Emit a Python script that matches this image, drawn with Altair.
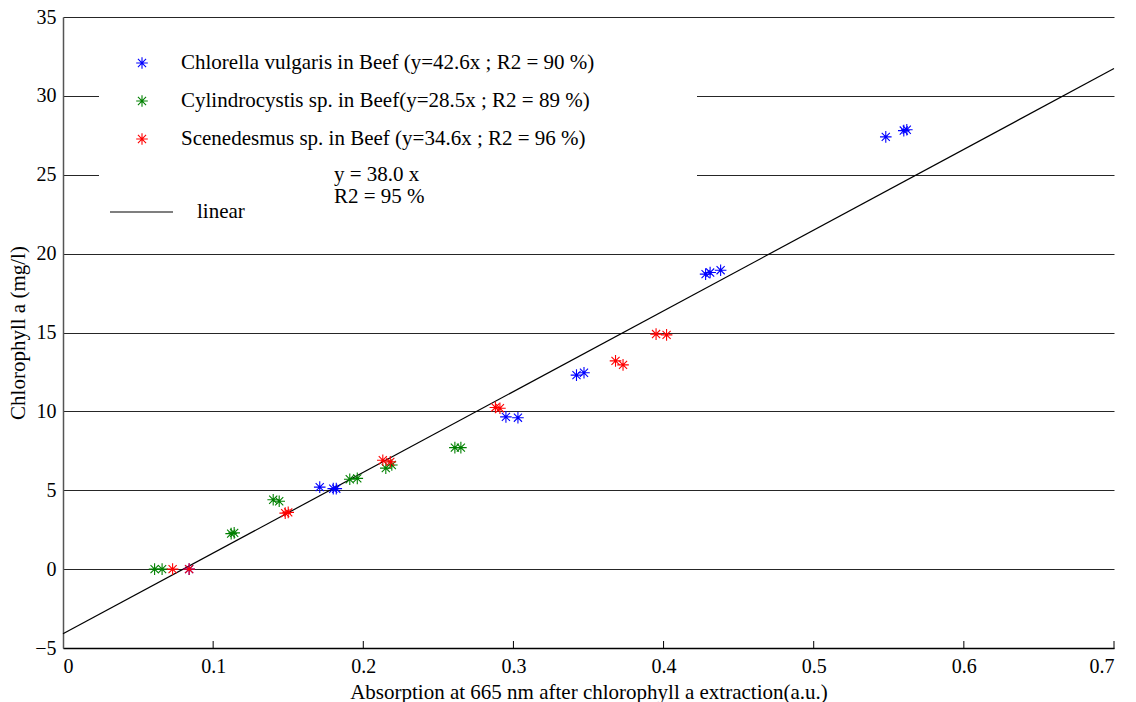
import altair as alt
import pandas as pd

# ---------------- data ----------------
series_names = [
    "Chlorella vulgaris in Beef (y=42.6x ; R2 = 90 %)",
    "Cylindrocystis sp. in Beef(y=28.5x ; R2 = 89 %)",
    "Scenedesmus sp. in Beef (y=34.6x ; R2 = 96 %)",
]
series_colors = ["#0000ff", "#008000", "#ff0000"]

chlorella_x = [0.084, 0.171, 0.180, 0.182, 0.295, 0.303, 0.342, 0.347, 0.428, 0.431, 0.438, 0.548, 0.560, 0.562]
chlorella_y = [0.0, 5.2, 5.1, 5.1, 9.65, 9.6, 12.3, 12.45, 18.7, 18.8, 18.95, 27.4, 27.8, 27.85]

cylindro_x = [0.061, 0.066, 0.112, 0.114, 0.140, 0.144, 0.191, 0.196, 0.215, 0.219, 0.261, 0.265]
cylindro_y = [0.0, 0.0, 2.25, 2.3, 4.4, 4.3, 5.7, 5.75, 6.4, 6.6, 7.7, 7.7]

scened_x = [0.073, 0.084, 0.148, 0.150, 0.213, 0.218, 0.288, 0.291, 0.368, 0.373, 0.395, 0.402]
scened_y = [0.0, 0.0, 3.55, 3.6, 6.9, 6.8, 10.25, 10.2, 13.2, 12.95, 14.9, 14.85]

fit_x = [0.0, 0.7]
fit_y = [-4.1, 31.73]

fit_text = ["y = 38.0 x", "R2 = 95 %"]
fit_label = "linear"

x_ticks = [0, 0.1, 0.2, 0.3, 0.4, 0.5, 0.6, 0.7]
y_ticks = [-5, 0, 5, 10, 15, 20, 25, 30, 35]

x_title = "Absorption at 665 nm after chlorophyll a extraction(a.u.)"
y_title = "Chlorophyll a (mg/l)"

# ---------------- build ----------------
FONT = "Times New Roman, Liberation Serif, DejaVu Serif, serif"
FS = 20
FS_TXT = 21
STAR = "M-1,0L1,0M0,-1L0,1M-0.7,-0.7L0.7,0.7M-0.7,0.7L0.7,-0.7"
W, H = 1051, 631
SZ = 135

rows = []
for name, xs, ys in zip(series_names, [chlorella_x, cylindro_x, scened_x],
                        [chlorella_y, cylindro_y, scened_y]):
    for a, b in zip(xs, ys):
        rows.append({"series": name, "x": a, "y": b})
df = pd.DataFrame(rows)

x_scale = alt.Scale(domain=[0, 0.7], nice=False, zero=False)
y_scale = alt.Scale(domain=[-5, 35], nice=False, zero=False)

x_axis = alt.Axis(values=x_ticks, format="~g", title=x_title, grid=False, ticks=False,
                  labelPadding=8, titlePadding=5, labelFont=FONT, labelFontSize=FS,
                  titleFont=FONT, titleFontSize=FS_TXT, titleFontWeight="normal",
                  labelColor="#000", titleColor="#000", domainColor="#000", domainWidth=1.5)
y_axis = alt.Axis(values=y_ticks, title=y_title, grid=True, ticks=False,
                  gridColor="#000", gridWidth=1, gridOpacity=0.85,
                  labelPadding=7, titlePadding=6, labelFont=FONT, labelFontSize=FS,
                  titleFont=FONT, titleFontSize=FS_TXT, titleFontWeight="normal",
                  labelColor="#000", titleColor="#000", domainColor="#555", domainWidth=1.5)

base = alt.Chart(df)

points = base.mark_point(shape=STAR, filled=False, size=SZ, strokeWidth=1.1, opacity=1).encode(
    x=alt.X("x:Q", scale=x_scale, axis=x_axis),
    y=alt.Y("y:Q", scale=y_scale, axis=y_axis),
    color=alt.Color("series:N", scale=alt.Scale(domain=series_names, range=series_colors), legend=None),
)

fit = alt.Chart(pd.DataFrame({"x": fit_x, "y": fit_y})).mark_line(color="#000", strokeWidth=1.2).encode(
    x=alt.X("x:Q", scale=x_scale),
    y=alt.Y("y:Q", scale=y_scale),
)

xtick_marks = alt.Chart(pd.DataFrame({"t": x_ticks[1:]})).mark_rule(color="#000", strokeWidth=1).encode(
    x=alt.X("t:Q", scale=x_scale),
    y=alt.value(H), y2=alt.value(H - 7),
)

# legend box (white background over gridlines)
legend_bg = alt.Chart(pd.DataFrame({"a": [0]})).mark_rect(color="white").encode(
    x=alt.value(36), x2=alt.value(634), y=alt.value(14), y2=alt.value(208),
)

layers = [legend_bg, fit, points, xtick_marks]
row_y = [46, 84, 122]
for name, col, yy in zip(series_names, series_colors, row_y):
    d = pd.DataFrame({"label": [name]})
    layers.append(alt.Chart(d).mark_point(shape=STAR, filled=False, size=SZ, strokeWidth=1.1,
                                          color=col, opacity=1).encode(
        x=alt.value(79), y=alt.value(yy)))
    layers.append(alt.Chart(d).mark_text(align="left", baseline="middle", font=FONT, fontSize=FS_TXT,
                                         color="#000").encode(
        x=alt.value(118), y=alt.value(yy), text="label:N"))

for txt, yy in zip(fit_text, [158, 180]):
    layers.append(alt.Chart(pd.DataFrame({"label": [txt]})).mark_text(
        align="left", baseline="middle", font=FONT, fontSize=FS_TXT, color="#000").encode(
        x=alt.value(271), y=alt.value(yy), text="label:N"))

layers.append(alt.Chart(pd.DataFrame({"label": [fit_label]})).mark_rule(color="#000", strokeWidth=1.2).encode(
    x=alt.value(47), x2=alt.value(110), y=alt.value(195)))
layers.append(alt.Chart(pd.DataFrame({"label": [fit_label]})).mark_text(
    align="left", baseline="middle", font=FONT, fontSize=FS_TXT, color="#000").encode(
    x=alt.value(134), y=alt.value(195), text="label:N"))

chart = alt.layer(*layers).properties(
    width=W, height=H,
    autosize=alt.AutoSizeParams(type="none"),
    padding={"left": 63, "top": 17, "right": 22, "bottom": 54},
    background="white",
).configure_view(stroke=None)

chart.save("out.html", embed_options={"renderer": "svg", "actions": False})
